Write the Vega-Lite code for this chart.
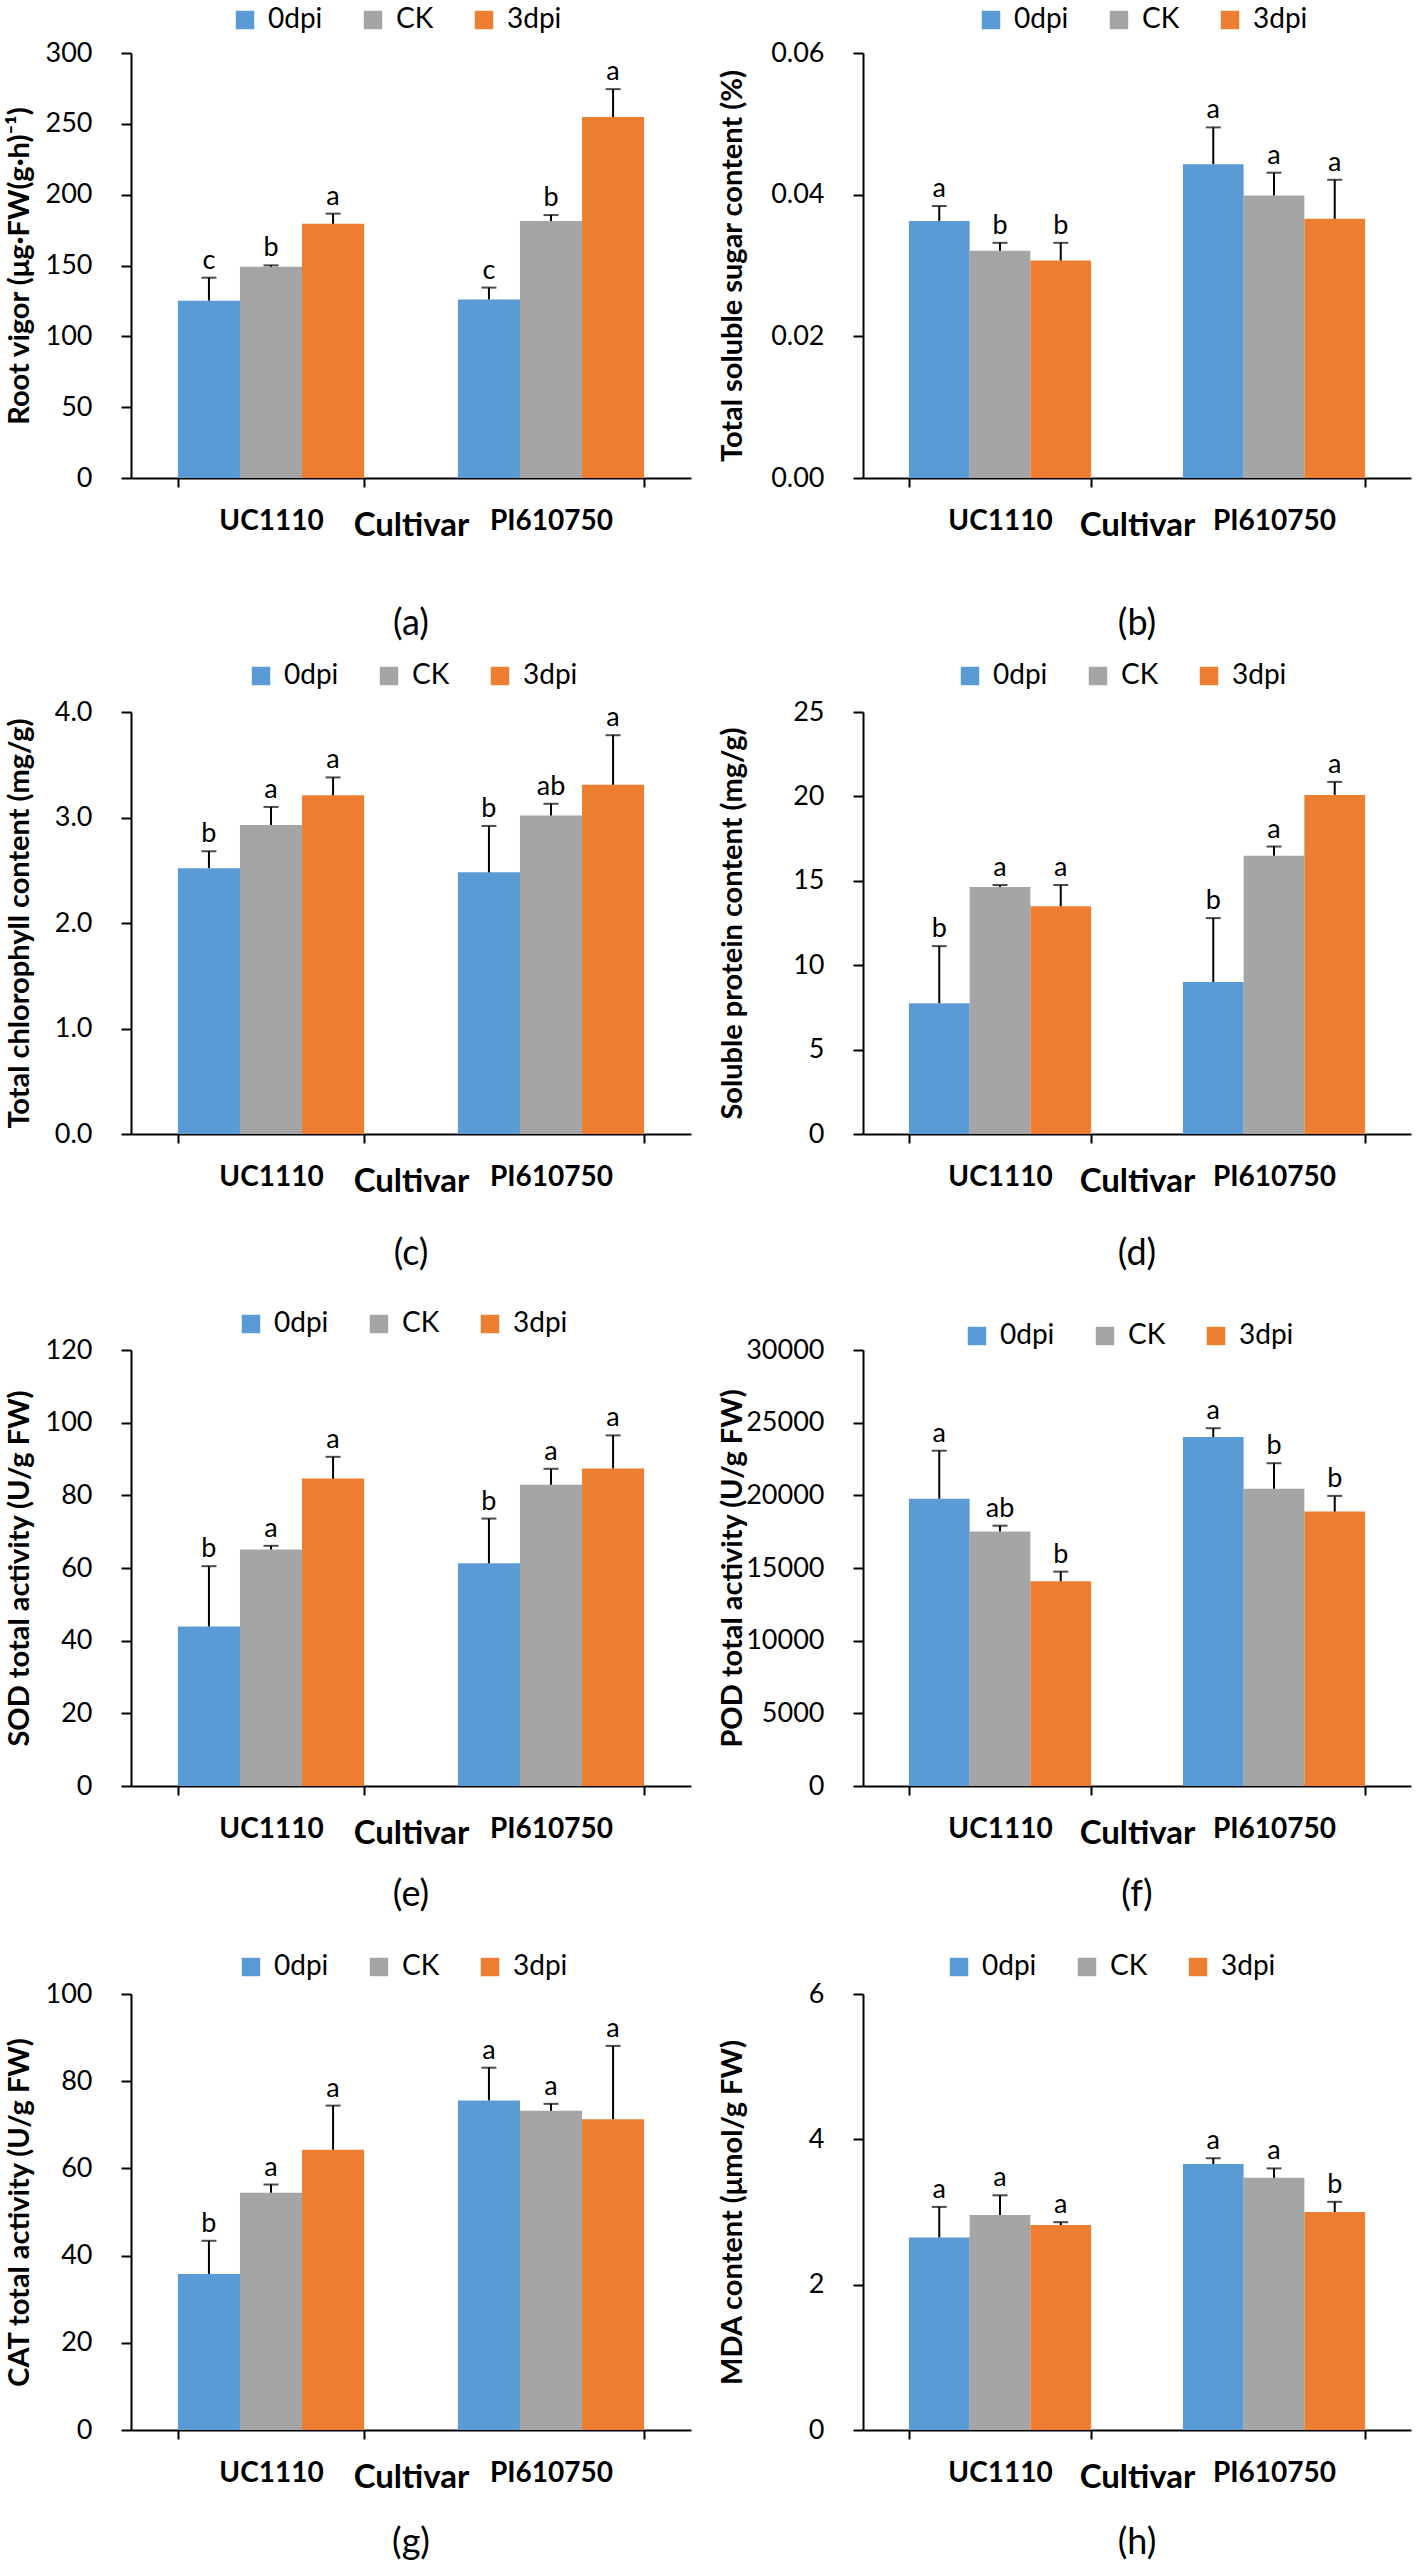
{
"$schema": "https://vega.github.io/schema/vega-lite/v6.json",
"background": "white",
"padding": {"left": 4, "top": 0, "right": 5, "bottom": 0},
"columns": 2,
"spacing": {"row": 0, "column": 26},
"resolve": {"scale": {"x": "independent", "y": "independent", "xOffset": "independent", "color": "independent"}, "legend": {"color": "independent"}},
"datasets": {
"a": [
{"cultivar": "UC1110", "treatment": "0dpi", "mean": 125.2, "err": 141.4, "letter": "c"},
{"cultivar": "UC1110", "treatment": "CK", "mean": 149.1, "err": 150.1, "letter": "b"},
{"cultivar": "UC1110", "treatment": "3dpi", "mean": 179.4, "err": 186.6, "letter": "a"},
{"cultivar": "PI610750", "treatment": "0dpi", "mean": 126.0, "err": 134.4, "letter": "c"},
{"cultivar": "PI610750", "treatment": "CK", "mean": 181.5, "err": 185.6, "letter": "b"},
{"cultivar": "PI610750", "treatment": "3dpi", "mean": 254.8, "err": 274.5, "letter": "a"}
],
"b": [
{"cultivar": "UC1110", "treatment": "0dpi", "mean": 0.0363, "err": 0.0384, "letter": "a"},
{"cultivar": "UC1110", "treatment": "CK", "mean": 0.0321, "err": 0.0332, "letter": "b"},
{"cultivar": "UC1110", "treatment": "3dpi", "mean": 0.0307, "err": 0.0332, "letter": "b"},
{"cultivar": "PI610750", "treatment": "0dpi", "mean": 0.0443, "err": 0.0495, "letter": "a"},
{"cultivar": "PI610750", "treatment": "CK", "mean": 0.0399, "err": 0.0431, "letter": "a"},
{"cultivar": "PI610750", "treatment": "3dpi", "mean": 0.0366, "err": 0.0421, "letter": "a"}
],
"c": [
{"cultivar": "UC1110", "treatment": "0dpi", "mean": 2.52, "err": 2.68, "letter": "b"},
{"cultivar": "UC1110", "treatment": "CK", "mean": 2.93, "err": 3.10, "letter": "a"},
{"cultivar": "UC1110", "treatment": "3dpi", "mean": 3.21, "err": 3.38, "letter": "a"},
{"cultivar": "PI610750", "treatment": "0dpi", "mean": 2.48, "err": 2.92, "letter": "b"},
{"cultivar": "PI610750", "treatment": "CK", "mean": 3.02, "err": 3.13, "letter": "ab"},
{"cultivar": "PI610750", "treatment": "3dpi", "mean": 3.31, "err": 3.78, "letter": "a"}
],
"d": [
{"cultivar": "UC1110", "treatment": "0dpi", "mean": 7.75, "err": 11.13, "letter": "b"},
{"cultivar": "UC1110", "treatment": "CK", "mean": 14.64, "err": 14.75, "letter": "a"},
{"cultivar": "UC1110", "treatment": "3dpi", "mean": 13.49, "err": 14.75, "letter": "a"},
{"cultivar": "PI610750", "treatment": "0dpi", "mean": 9.01, "err": 12.79, "letter": "b"},
{"cultivar": "PI610750", "treatment": "CK", "mean": 16.49, "err": 17.03, "letter": "a"},
{"cultivar": "PI610750", "treatment": "3dpi", "mean": 20.09, "err": 20.86, "letter": "a"}
],
"e": [
{"cultivar": "UC1110", "treatment": "0dpi", "mean": 43.9, "err": 60.5, "letter": "b"},
{"cultivar": "UC1110", "treatment": "CK", "mean": 65.1, "err": 66.1, "letter": "a"},
{"cultivar": "UC1110", "treatment": "3dpi", "mean": 84.6, "err": 90.6, "letter": "a"},
{"cultivar": "PI610750", "treatment": "0dpi", "mean": 61.3, "err": 73.6, "letter": "b"},
{"cultivar": "PI610750", "treatment": "CK", "mean": 82.9, "err": 87.3, "letter": "a"},
{"cultivar": "PI610750", "treatment": "3dpi", "mean": 87.4, "err": 96.5, "letter": "a"}
],
"f": [
{"cultivar": "UC1110", "treatment": "0dpi", "mean": 19770, "err": 23070, "letter": "a"},
{"cultivar": "UC1110", "treatment": "CK", "mean": 17520, "err": 17910, "letter": "ab"},
{"cultivar": "UC1110", "treatment": "3dpi", "mean": 14090, "err": 14750, "letter": "b"},
{"cultivar": "PI610750", "treatment": "0dpi", "mean": 24010, "err": 24620, "letter": "a"},
{"cultivar": "PI610750", "treatment": "CK", "mean": 20460, "err": 22210, "letter": "b"},
{"cultivar": "PI610750", "treatment": "3dpi", "mean": 18880, "err": 19960, "letter": "b"}
],
"g": [
{"cultivar": "UC1110", "treatment": "0dpi", "mean": 35.8, "err": 43.4, "letter": "b"},
{"cultivar": "UC1110", "treatment": "CK", "mean": 54.4, "err": 56.3, "letter": "a"},
{"cultivar": "UC1110", "treatment": "3dpi", "mean": 64.3, "err": 74.4, "letter": "a"},
{"cultivar": "PI610750", "treatment": "0dpi", "mean": 75.6, "err": 83.1, "letter": "a"},
{"cultivar": "PI610750", "treatment": "CK", "mean": 73.2, "err": 74.8, "letter": "a"},
{"cultivar": "PI610750", "treatment": "3dpi", "mean": 71.3, "err": 88.1, "letter": "a"}
],
"h": [
{"cultivar": "UC1110", "treatment": "0dpi", "mean": 2.65, "err": 3.07, "letter": "a"},
{"cultivar": "UC1110", "treatment": "CK", "mean": 2.96, "err": 3.23, "letter": "a"},
{"cultivar": "UC1110", "treatment": "3dpi", "mean": 2.82, "err": 2.86, "letter": "a"},
{"cultivar": "PI610750", "treatment": "0dpi", "mean": 3.66, "err": 3.74, "letter": "a"},
{"cultivar": "PI610750", "treatment": "CK", "mean": 3.47, "err": 3.60, "letter": "a"},
{"cultivar": "PI610750", "treatment": "3dpi", "mean": 3.00, "err": 3.14, "letter": "b"}
]
},
"concat": [
{
"data": {"name": "a"}, "width": 560, "height": 425,
"title": {"text": "(a)", "orient": "bottom", "frame": "group", "anchor": "middle", "offset": 82, "baseline": "middle", "fontSize": 36, "fontWeight": "normal", "font": "Lato", "color": "black"},
"encoding": {
"x": {"field": "cultivar", "type": "nominal", "sort": ["UC1110", "PI610750"], "scale": {"paddingInner": 0.335, "paddingOuter": 0.1675}, "axis": {"title": "Cultivar"}},
"xOffset": {"field": "treatment", "type": "nominal", "sort": ["0dpi", "CK", "3dpi"], "scale": {"paddingInner": 0, "paddingOuter": 0}}
},
"layer": [
{"mark": {"type": "bar"}, "encoding": {
"y": {"field": "mean", "type": "quantitative", "scale": {"domain": [0, 300], "nice": false}, "title": "Root vigor (μg·FW(g·h)⁻¹)", "axis": {"titleX": -112, "values": [0, 50, 100, 150, 200, 250, 300], "format": "d"}},
"color": {"field": "treatment", "type": "nominal", "scale": {"domain": ["0dpi", "CK", "3dpi"], "range": ["#5B9BD5", "#A5A5A5", "#ED7D31"]}, "legend": {"title": null, "legendX": 94, "legendY": -53, "padding": 6}}}},
{"mark": {"type": "rule", "color": "black", "strokeWidth": 2}, "encoding": {
"y": {"field": "mean", "type": "quantitative", "scale": {"domain": [0, 300], "nice": false}, "title": "Root vigor (μg·FW(g·h)⁻¹)"},
"y2": {"field": "err"}}},
{"mark": {"type": "tick", "color": "black", "thickness": 2, "size": 15, "orient": "horizontal"}, "encoding": {
"y": {"field": "err", "type": "quantitative", "scale": {"domain": [0, 300], "nice": false}, "title": "Root vigor (μg·FW(g·h)⁻¹)"}}},
{"mark": {"type": "text", "baseline": "alphabetic", "dy": -9, "fontSize": 27, "font": "Lato", "color": "black"}, "encoding": {
"y": {"field": "err", "type": "quantitative", "scale": {"domain": [0, 300], "nice": false}, "title": "Root vigor (μg·FW(g·h)⁻¹)"},
"text": {"field": "letter"}}}
]
},
{
"data": {"name": "b"}, "width": 548, "height": 425,
"title": {"text": "(b)", "orient": "bottom", "frame": "group", "anchor": "middle", "offset": 82, "baseline": "middle", "fontSize": 36, "fontWeight": "normal", "font": "Lato", "color": "black"},
"encoding": {
"x": {"field": "cultivar", "type": "nominal", "sort": ["UC1110", "PI610750"], "scale": {"paddingInner": 0.335, "paddingOuter": 0.1675}, "axis": {"title": "Cultivar"}},
"xOffset": {"field": "treatment", "type": "nominal", "sort": ["0dpi", "CK", "3dpi"], "scale": {"paddingInner": 0, "paddingOuter": 0}}
},
"layer": [
{"mark": {"type": "bar"}, "encoding": {
"y": {"field": "mean", "type": "quantitative", "scale": {"domain": [0, 0.06], "nice": false}, "title": "Total soluble sugar content (%)", "axis": {"titleX": -131, "values": [0, 0.02, 0.04, 0.06], "format": ".2f"}},
"color": {"field": "treatment", "type": "nominal", "scale": {"domain": ["0dpi", "CK", "3dpi"], "range": ["#5B9BD5", "#A5A5A5", "#ED7D31"]}, "legend": {"title": null, "legendX": 108, "legendY": -53, "padding": 6}}}},
{"mark": {"type": "rule", "color": "black", "strokeWidth": 2}, "encoding": {
"y": {"field": "mean", "type": "quantitative", "scale": {"domain": [0, 0.06], "nice": false}, "title": "Total soluble sugar content (%)"},
"y2": {"field": "err"}}},
{"mark": {"type": "tick", "color": "black", "thickness": 2, "size": 15, "orient": "horizontal"}, "encoding": {
"y": {"field": "err", "type": "quantitative", "scale": {"domain": [0, 0.06], "nice": false}, "title": "Total soluble sugar content (%)"}}},
{"mark": {"type": "text", "baseline": "alphabetic", "dy": -9, "fontSize": 27, "font": "Lato", "color": "black"}, "encoding": {
"y": {"field": "err", "type": "quantitative", "scale": {"domain": [0, 0.06], "nice": false}, "title": "Total soluble sugar content (%)"},
"text": {"field": "letter"}}}
]
},
{
"data": {"name": "c"}, "width": 560, "height": 422,
"title": {"text": "(c)", "orient": "bottom", "frame": "group", "anchor": "middle", "offset": 56, "baseline": "middle", "fontSize": 36, "fontWeight": "normal", "font": "Lato", "color": "black"},
"encoding": {
"x": {"field": "cultivar", "type": "nominal", "sort": ["UC1110", "PI610750"], "scale": {"paddingInner": 0.335, "paddingOuter": 0.1675}, "axis": {"title": "Cultivar"}},
"xOffset": {"field": "treatment", "type": "nominal", "sort": ["0dpi", "CK", "3dpi"], "scale": {"paddingInner": 0, "paddingOuter": 0}}
},
"layer": [
{"mark": {"type": "bar"}, "encoding": {
"y": {"field": "mean", "type": "quantitative", "scale": {"domain": [0, 4], "nice": false}, "title": "Total chlorophyll content  (mg/g)", "axis": {"titleX": -112, "values": [0, 1, 2, 3, 4], "format": ".1f"}},
"color": {"field": "treatment", "type": "nominal", "scale": {"domain": ["0dpi", "CK", "3dpi"], "range": ["#5B9BD5", "#A5A5A5", "#ED7D31"]}, "legend": {"title": null, "legendX": 96, "legendY": -70, "padding": 20}}}},
{"mark": {"type": "rule", "color": "black", "strokeWidth": 2}, "encoding": {
"y": {"field": "mean", "type": "quantitative", "scale": {"domain": [0, 4], "nice": false}, "title": "Total chlorophyll content  (mg/g)"},
"y2": {"field": "err"}}},
{"mark": {"type": "tick", "color": "black", "thickness": 2, "size": 15, "orient": "horizontal"}, "encoding": {
"y": {"field": "err", "type": "quantitative", "scale": {"domain": [0, 4], "nice": false}, "title": "Total chlorophyll content  (mg/g)"}}},
{"mark": {"type": "text", "baseline": "alphabetic", "dy": -9, "fontSize": 27, "font": "Lato", "color": "black"}, "encoding": {
"y": {"field": "err", "type": "quantitative", "scale": {"domain": [0, 4], "nice": false}, "title": "Total chlorophyll content  (mg/g)"},
"text": {"field": "letter"}}}
]
},
{
"data": {"name": "d"}, "width": 548, "height": 422,
"title": {"text": "(d)", "orient": "bottom", "frame": "group", "anchor": "middle", "offset": 56, "baseline": "middle", "fontSize": 36, "fontWeight": "normal", "font": "Lato", "color": "black"},
"encoding": {
"x": {"field": "cultivar", "type": "nominal", "sort": ["UC1110", "PI610750"], "scale": {"paddingInner": 0.335, "paddingOuter": 0.1675}, "axis": {"title": "Cultivar"}},
"xOffset": {"field": "treatment", "type": "nominal", "sort": ["0dpi", "CK", "3dpi"], "scale": {"paddingInner": 0, "paddingOuter": 0}}
},
"layer": [
{"mark": {"type": "bar"}, "encoding": {
"y": {"field": "mean", "type": "quantitative", "scale": {"domain": [0, 25], "nice": false}, "title": "Soluble protein content (mg/g)", "axis": {"titleX": -131, "values": [0, 5, 10, 15, 20, 25], "format": "d"}},
"color": {"field": "treatment", "type": "nominal", "scale": {"domain": ["0dpi", "CK", "3dpi"], "range": ["#5B9BD5", "#A5A5A5", "#ED7D31"]}, "legend": {"title": null, "legendX": 73, "legendY": -70, "padding": 20}}}},
{"mark": {"type": "rule", "color": "black", "strokeWidth": 2}, "encoding": {
"y": {"field": "mean", "type": "quantitative", "scale": {"domain": [0, 25], "nice": false}, "title": "Soluble protein content (mg/g)"},
"y2": {"field": "err"}}},
{"mark": {"type": "tick", "color": "black", "thickness": 2, "size": 15, "orient": "horizontal"}, "encoding": {
"y": {"field": "err", "type": "quantitative", "scale": {"domain": [0, 25], "nice": false}, "title": "Soluble protein content (mg/g)"}}},
{"mark": {"type": "text", "baseline": "alphabetic", "dy": -9, "fontSize": 27, "font": "Lato", "color": "black"}, "encoding": {
"y": {"field": "err", "type": "quantitative", "scale": {"domain": [0, 25], "nice": false}, "title": "Soluble protein content (mg/g)"},
"text": {"field": "letter"}}}
]
},
{
"data": {"name": "e"}, "width": 560, "height": 436,
"title": {"text": "(e)", "orient": "bottom", "frame": "group", "anchor": "middle", "offset": 45, "baseline": "middle", "fontSize": 36, "fontWeight": "normal", "font": "Lato", "color": "black"},
"encoding": {
"x": {"field": "cultivar", "type": "nominal", "sort": ["UC1110", "PI610750"], "scale": {"paddingInner": 0.335, "paddingOuter": 0.1675}, "axis": {"title": "Cultivar"}},
"xOffset": {"field": "treatment", "type": "nominal", "sort": ["0dpi", "CK", "3dpi"], "scale": {"paddingInner": 0, "paddingOuter": 0}}
},
"layer": [
{"mark": {"type": "bar"}, "encoding": {
"y": {"field": "mean", "type": "quantitative", "scale": {"domain": [0, 120], "nice": false}, "title": "SOD total activity (U/g FW)", "axis": {"titleX": -112, "values": [0, 20, 40, 60, 80, 100, 120], "format": "d"}},
"color": {"field": "treatment", "type": "nominal", "scale": {"domain": ["0dpi", "CK", "3dpi"], "range": ["#5B9BD5", "#A5A5A5", "#ED7D31"]}, "legend": {"title": null, "legendX": 68, "legendY": -78, "padding": 38}}}},
{"mark": {"type": "rule", "color": "black", "strokeWidth": 2}, "encoding": {
"y": {"field": "mean", "type": "quantitative", "scale": {"domain": [0, 120], "nice": false}, "title": "SOD total activity (U/g FW)"},
"y2": {"field": "err"}}},
{"mark": {"type": "tick", "color": "black", "thickness": 2, "size": 15, "orient": "horizontal"}, "encoding": {
"y": {"field": "err", "type": "quantitative", "scale": {"domain": [0, 120], "nice": false}, "title": "SOD total activity (U/g FW)"}}},
{"mark": {"type": "text", "baseline": "alphabetic", "dy": -9, "fontSize": 27, "font": "Lato", "color": "black"}, "encoding": {
"y": {"field": "err", "type": "quantitative", "scale": {"domain": [0, 120], "nice": false}, "title": "SOD total activity (U/g FW)"},
"text": {"field": "letter"}}}
]
},
{
"data": {"name": "f"}, "width": 548, "height": 436,
"title": {"text": "(f)", "orient": "bottom", "frame": "group", "anchor": "middle", "offset": 45, "baseline": "middle", "fontSize": 36, "fontWeight": "normal", "font": "Lato", "color": "black"},
"encoding": {
"x": {"field": "cultivar", "type": "nominal", "sort": ["UC1110", "PI610750"], "scale": {"paddingInner": 0.335, "paddingOuter": 0.1675}, "axis": {"title": "Cultivar"}},
"xOffset": {"field": "treatment", "type": "nominal", "sort": ["0dpi", "CK", "3dpi"], "scale": {"paddingInner": 0, "paddingOuter": 0}}
},
"layer": [
{"mark": {"type": "bar"}, "encoding": {
"y": {"field": "mean", "type": "quantitative", "scale": {"domain": [0, 30000], "nice": false}, "title": "POD total activity (U/g FW)", "axis": {"titleX": -131, "values": [0, 5000, 10000, 15000, 20000, 25000, 30000], "format": "d"}},
"color": {"field": "treatment", "type": "nominal", "scale": {"domain": ["0dpi", "CK", "3dpi"], "range": ["#5B9BD5", "#A5A5A5", "#ED7D31"]}, "legend": {"title": null, "legendX": 50, "legendY": -78, "padding": 50}}}},
{"mark": {"type": "rule", "color": "black", "strokeWidth": 2}, "encoding": {
"y": {"field": "mean", "type": "quantitative", "scale": {"domain": [0, 30000], "nice": false}, "title": "POD total activity (U/g FW)"},
"y2": {"field": "err"}}},
{"mark": {"type": "tick", "color": "black", "thickness": 2, "size": 15, "orient": "horizontal"}, "encoding": {
"y": {"field": "err", "type": "quantitative", "scale": {"domain": [0, 30000], "nice": false}, "title": "POD total activity (U/g FW)"}}},
{"mark": {"type": "text", "baseline": "alphabetic", "dy": -9, "fontSize": 27, "font": "Lato", "color": "black"}, "encoding": {
"y": {"field": "err", "type": "quantitative", "scale": {"domain": [0, 30000], "nice": false}, "title": "POD total activity (U/g FW)"},
"text": {"field": "letter"}}}
]
},
{
"data": {"name": "g"}, "width": 560, "height": 436,
"title": {"text": "(g)", "orient": "bottom", "frame": "group", "anchor": "middle", "offset": 49, "baseline": "middle", "fontSize": 36, "fontWeight": "normal", "font": "Lato", "color": "black"},
"encoding": {
"x": {"field": "cultivar", "type": "nominal", "sort": ["UC1110", "PI610750"], "scale": {"paddingInner": 0.335, "paddingOuter": 0.1675}, "axis": {"title": "Cultivar"}},
"xOffset": {"field": "treatment", "type": "nominal", "sort": ["0dpi", "CK", "3dpi"], "scale": {"paddingInner": 0, "paddingOuter": 0}}
},
"layer": [
{"mark": {"type": "bar"}, "encoding": {
"y": {"field": "mean", "type": "quantitative", "scale": {"domain": [0, 100], "nice": false}, "title": "CAT total activity (U/g  FW)", "axis": {"titleX": -112, "values": [0, 20, 40, 60, 80, 100], "format": "d"}},
"color": {"field": "treatment", "type": "nominal", "scale": {"domain": ["0dpi", "CK", "3dpi"], "range": ["#5B9BD5", "#A5A5A5", "#ED7D31"]}, "legend": {"title": null, "legendX": 66, "legendY": -81, "padding": 40}}}},
{"mark": {"type": "rule", "color": "black", "strokeWidth": 2}, "encoding": {
"y": {"field": "mean", "type": "quantitative", "scale": {"domain": [0, 100], "nice": false}, "title": "CAT total activity (U/g  FW)"},
"y2": {"field": "err"}}},
{"mark": {"type": "tick", "color": "black", "thickness": 2, "size": 15, "orient": "horizontal"}, "encoding": {
"y": {"field": "err", "type": "quantitative", "scale": {"domain": [0, 100], "nice": false}, "title": "CAT total activity (U/g  FW)"}}},
{"mark": {"type": "text", "baseline": "alphabetic", "dy": -9, "fontSize": 27, "font": "Lato", "color": "black"}, "encoding": {
"y": {"field": "err", "type": "quantitative", "scale": {"domain": [0, 100], "nice": false}, "title": "CAT total activity (U/g  FW)"},
"text": {"field": "letter"}}}
]
},
{
"data": {"name": "h"}, "width": 548, "height": 436,
"title": {"text": "(h)", "orient": "bottom", "frame": "group", "anchor": "middle", "offset": 49, "baseline": "middle", "fontSize": 36, "fontWeight": "normal", "font": "Lato", "color": "black"},
"encoding": {
"x": {"field": "cultivar", "type": "nominal", "sort": ["UC1110", "PI610750"], "scale": {"paddingInner": 0.335, "paddingOuter": 0.1675}, "axis": {"title": "Cultivar"}},
"xOffset": {"field": "treatment", "type": "nominal", "sort": ["0dpi", "CK", "3dpi"], "scale": {"paddingInner": 0, "paddingOuter": 0}}
},
"layer": [
{"mark": {"type": "bar"}, "encoding": {
"y": {"field": "mean", "type": "quantitative", "scale": {"domain": [0, 6], "nice": false}, "title": "MDA content (μmol/g FW)", "axis": {"titleX": -131, "values": [0, 2, 4, 6], "format": "d"}},
"color": {"field": "treatment", "type": "nominal", "scale": {"domain": ["0dpi", "CK", "3dpi"], "range": ["#5B9BD5", "#A5A5A5", "#ED7D31"]}, "legend": {"title": null, "legendX": 42, "legendY": -81, "padding": 40}}}},
{"mark": {"type": "rule", "color": "black", "strokeWidth": 2}, "encoding": {
"y": {"field": "mean", "type": "quantitative", "scale": {"domain": [0, 6], "nice": false}, "title": "MDA content (μmol/g FW)"},
"y2": {"field": "err"}}},
{"mark": {"type": "tick", "color": "black", "thickness": 2, "size": 15, "orient": "horizontal"}, "encoding": {
"y": {"field": "err", "type": "quantitative", "scale": {"domain": [0, 6], "nice": false}, "title": "MDA content (μmol/g FW)"}}},
{"mark": {"type": "text", "baseline": "alphabetic", "dy": -9, "fontSize": 27, "font": "Lato", "color": "black"}, "encoding": {
"y": {"field": "err", "type": "quantitative", "scale": {"domain": [0, 6], "nice": false}, "title": "MDA content (μmol/g FW)"},
"text": {"field": "letter"}}}
]
}
],
"config": {
"view": {"stroke": null},
"font": "Lato",
"axis": {"domainColor": "black", "domainWidth": 2, "tickColor": "black", "tickWidth": 2, "labelColor": "black", "titleColor": "black", "labelFont": "Lato", "titleFont": "Lato", "grid": false},
"axisX": {"labelFontSize": 28, "labelFontWeight": "bold", "labelAngle": 0, "labelBaseline": "middle", "labelPadding": 34, "tickSize": 9, "tickBand": "extent", "titleFontSize": 33, "titleFontWeight": "bold", "titleY": 47, "titleBaseline": "middle"},
"axisY": {"labelFontSize": 27, "labelPadding": 29, "tickSize": 10, "titleFontSize": 29, "titleFontWeight": "bold", "titleBaseline": "middle"},
"legend": {"orient": "none", "direction": "horizontal", "symbolType": "square", "symbolSize": 340, "symbolStrokeWidth": 0, "symbolOpacity": 1, "labelFont": "Lato", "labelFontSize": 28, "labelColor": "black", "labelOffset": 9, "columnPadding": 36}
}
}
